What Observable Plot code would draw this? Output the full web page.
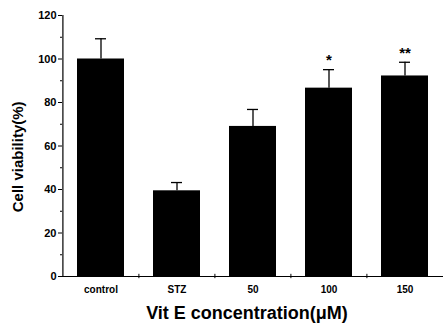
<!DOCTYPE html>
<html><head><meta charset="utf-8">
<script src="https://cdn.jsdelivr.net/npm/d3@7"></script>
<script src="https://cdn.jsdelivr.net/npm/@observablehq/plot@0.6"></script>
<style>
body{margin:0;background:#fff}
svg{font-family:"Liberation Sans",Arial,sans-serif;}
</style>
</head><body><div id="chart"></div>
<script>
const categories = ["control", "STZ", "50", "100", "150"];
const viability = [100, 39.4, 69, 86.6, 92.2];
const errors = [9.3, 3.8, 7.8, 8.5, 6.3];
const significance = ["", "", "", "*", "**"];
const yTicks = [0, 20, 40, 60, 80, 100, 120];
const yMinorTicks = [10, 30, 50, 70, 90, 110];
const yLabel = "Cell viability(%)";
const xLabel = "Vit E concentration(\u03bcM)";

const data = categories.map((c, i) => ({cat: c, v: viability[i], top: viability[i] + errors[i], sig: significance[i]}));

const W = 443, H = 324, ML = 62, MR = 0;
const step = (W - ML - MR) / categories.length;

const chart = Plot.plot({
  width: W, height: H,
  marginLeft: ML, marginRight: MR, marginTop: 15, marginBottom: 48,
  style: {background: "white", color: "black", fontFamily: "Liberation Sans, Arial, sans-serif"},
  x: {domain: categories, paddingInner: 0.385, paddingOuter: 0.1925, label: null, axis: null},
  y: {domain: [0, 120], label: null, axis: null},
  marks: [
    Plot.barY(data, {x: "cat", y: "v", fill: "black"}),
    Plot.ruleX(data, {x: "cat", y1: "v", y2: "top", stroke: "black", strokeWidth: 1.3}),
    Plot.tickY(data, {x: "cat", y: "top", stroke: "black", strokeWidth: 1.3, inset: 18}),
    Plot.text(data, {x: "cat", y: "top", text: "sig", dy: -9, fontSize: 15, fontWeight: "bold"}),
    Plot.ruleY([0], {stroke: "black", strokeWidth: 1.2}),
    Plot.ruleX(categories.slice(1), {x: d => d, y1: -1, y2: 1, dx: -step / 2, stroke: "black"}),
    Plot.ruleX([categories[0]], {x: d => d, y1: 0, y2: 120, dx: -step / 2, stroke: "black", strokeWidth: 1.2}),
    Plot.axisY({ticks: yTicks, tickSize: 4, tickPadding: 2, fontSize: 11, fontWeight: "bold", label: null}),
    Plot.axisY({ticks: yMinorTicks, tickSize: 2, tickFormat: () => "", label: null}),
    Plot.axisX({tickSize: 0, tickPadding: 9, fontSize: 10, fontWeight: "bold", label: null}),
    Plot.text([yLabel], {y: () => 55, frameAnchor: "left", textAnchor: "middle", text: d => d, rotate: -90, dx: -44, fontSize: 15, fontWeight: "bold", letterSpacing: -1}),
    Plot.text([xLabel], {frameAnchor: "bottom", text: d => d, dy: 42, dx: -6, fontSize: 18, fontWeight: "bold", letterSpacing: -1.5})
  ]
});
document.getElementById("chart").appendChild(chart);
</script>
</body></html>
